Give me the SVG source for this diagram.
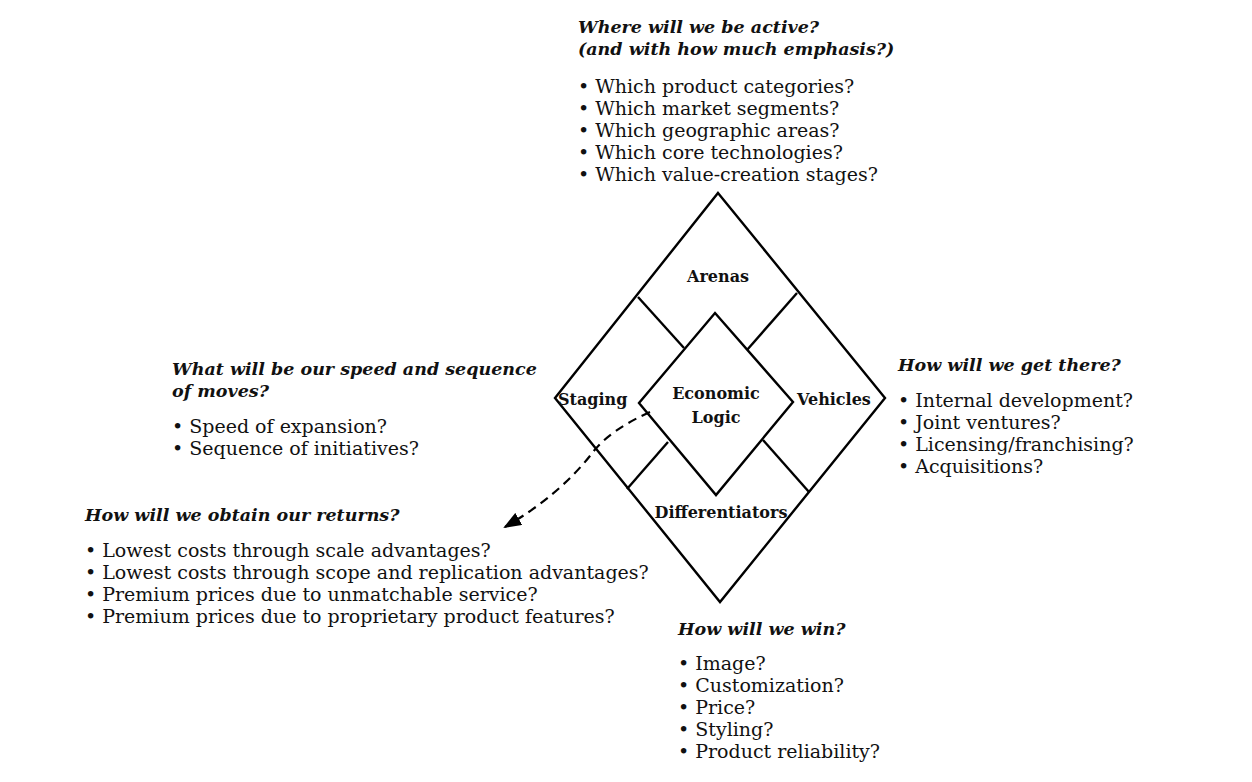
<svg xmlns="http://www.w3.org/2000/svg" width="1252" height="782" viewBox="0 0 1252 782">
<style>
text{font-family:"DejaVu Serif","Liberation Serif",serif;font-size:19px;fill:#111}
.h{font-weight:bold;font-style:italic;font-size:17.5px}
.l{font-weight:bold;font-size:16px}
.s{fill:none;stroke:#000;stroke-width:2.4}
</style>
<defs><marker id="ah" markerWidth="18" markerHeight="14" refX="16" refY="7" orient="auto" markerUnits="userSpaceOnUse" viewBox="0 0 18 14"><path d="M0,0 L18,7 L0,14z" fill="#000"/></marker></defs>
<rect width="1252" height="782" fill="#fff"/>
<g id="diamond">
<polygon class="s" points="718,193 885,398 720,602 555,398"/>
<polygon class="s" points="715,313 793,402 716,495 639,403" stroke-width="2"/>
<line class="s" x1="638" y1="297" x2="684" y2="348"/>
<line class="s" x1="797" y1="293" x2="747" y2="350"/>
<line class="s" x1="668" y1="442" x2="627" y2="489"/>
<line class="s" x1="763" y1="440" x2="809" y2="492"/>
</g>
<g id="arenas"><text class="l" x="718" y="282" text-anchor="middle">Arenas</text></g>
<g id="staging"><text class="l" x="558" y="405">Staging</text></g>
<g id="vehicles"><text class="l" x="797" y="405">Vehicles</text></g>
<g id="logic"><text class="l" x="716" y="399" text-anchor="middle">Economic</text><text class="l" x="716" y="423" text-anchor="middle">Logic</text></g>
<g id="differentiators"><text class="l" x="721" y="518" text-anchor="middle">Differentiators</text></g>
<g id="connectors"><path d="M650,412 Q610,430 593,452 Q560,495 505,527" fill="none" stroke="#000" stroke-width="2.2" stroke-dasharray="9,6" marker-end="url(#ah)"/></g>
<g id="top">
<text class="h" x="578" y="33">Where will we be active?</text>
<text class="h" x="578" y="55">(and with how much emphasis?)</text>
<text x="578" y="93">• Which product categories?</text>
<text x="578" y="115">• Which market segments?</text>
<text x="578" y="137">• Which geographic areas?</text>
<text x="578" y="159">• Which core technologies?</text>
<text x="578" y="181">• Which value-creation stages?</text>
</g>
<g id="left">
<text class="h" x="172" y="375">What will be our speed and sequence</text>
<text class="h" x="172" y="397">of moves?</text>
<text x="172" y="433">• Speed of expansion?</text>
<text x="172" y="455">• Sequence of initiatives?</text>
</g>
<g id="returns">
<text class="h" x="85" y="521">How will we obtain our returns?</text>
<text x="85" y="557">• Lowest costs through scale advantages?</text>
<text x="85" y="579">• Lowest costs through scope and replication advantages?</text>
<text x="85" y="601">• Premium prices due to unmatchable service?</text>
<text x="85" y="623">• Premium prices due to proprietary product features?</text>
</g>
<g id="right">
<text class="h" x="898" y="371">How will we get there?</text>
<text x="898" y="407">• Internal development?</text>
<text x="898" y="429">• Joint ventures?</text>
<text x="898" y="451">• Licensing/franchising?</text>
<text x="898" y="473">• Acquisitions?</text>
</g>
<g id="bottom">
<text class="h" x="678" y="635">How will we win?</text>
<text x="678" y="670">• Image?</text>
<text x="678" y="692">• Customization?</text>
<text x="678" y="714">• Price?</text>
<text x="678" y="736">• Styling?</text>
<text x="678" y="758">• Product reliability?</text>
</g>
</svg>
